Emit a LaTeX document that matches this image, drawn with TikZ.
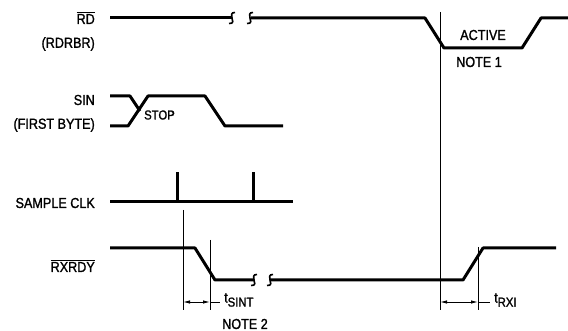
\documentclass[tikz,border=0pt]{standalone}
\usepackage{fontspec}
\setmainfont{Liberation Sans}[FakeBold=1.3, FakeStretch=0.87]
\usetikzlibrary{arrows.meta}
\begin{document}
\begin{tikzpicture}[x=1pt,y=-1pt,
  sig/.style={line width=3pt, line join=round},
  brk/.style={line width=1.6pt},
  guide/.style={line width=0.9pt},
  dim/.style={line width=0.9pt, {Latex[length=7pt,width=3.5pt]}-{Latex[length=7pt,width=3.5pt]}},
  lbl/.style={font=\fontsize{14.5}{16}\selectfont, inner sep=0pt}]
\useasboundingbox (0,0) rectangle (568,331);
% labels
\node[lbl, anchor=east] (lrd) at (95,18) {$\overline{\hbox{RD}}$};
\node[lbl, anchor=east] (lrdrbr) at (95,44) {(RDRBR)};
\node[lbl, anchor=east] (lsin) at (95,100) {SIN};
\node[lbl, anchor=east] (lfb) at (95,125) {(FIRST BYTE)};
\node[lbl, anchor=east] (lclk) at (95,203) {SAMPLE CLK};
\node[lbl, anchor=east] (lrx) at (95,266) {$\overline{\hbox{RXRDY}}$};
% RD signal
\draw[sig] (110,18) -- (232,18);
\draw[brk] (235,12.5) .. controls (231,12) and (231,16) .. (232,18) .. controls (233,20) and (234,24) .. (229,23.5);
\draw[brk] (253,12.5) .. controls (249,12) and (249,16) .. (250,18) .. controls (251,20) and (252,24) .. (247,23.5);
\draw[sig] (251,18) -- (425,18) -- (444,48) -- (522,48) -- (541,18) -- (568,18);
\node[lbl] (act) at (483,35) {ACTIVE};
\node[lbl] (n1) at (479,62) {NOTE 1};
% SIN
\draw[sig] (110,96) -- (130,96) -- (140,111);
\draw[sig] (110,126) -- (128,126) -- (148,96) -- (205,96) -- (225,126) -- (283,126);
\node[lbl, anchor=west, font=\fontsize{13}{14}\selectfont] (stop) at (144,115) {STOP};
% SAMPLE CLK
\draw[sig] (110,202) -- (293,202);
\draw[sig] (177,202) -- (177,172);
\draw[sig] (253,202) -- (253,172);
% RXRDY
\draw[sig] (110,248) -- (195,248) -- (215,280) -- (254,280);
\draw[brk] (257,274.5) .. controls (253,274) and (253,278) .. (254,280) .. controls (255,282) and (256,286) .. (251,285.5);
\draw[brk] (273,274.5) .. controls (269,274) and (269,278) .. (270,280) .. controls (271,282) and (272,286) .. (267,285.5);
\draw[sig] (270,280) -- (463,280) -- (483,248) -- (556,248);
% guides
\coordinate (g1t) at (183,210); \coordinate (g1b) at (183,310);
\coordinate (g2t) at (210,240); \coordinate (g2b) at (210,310);
\coordinate (g3t) at (440,12);  \coordinate (g3b) at (440,310);
\coordinate (g4t) at (478,247); \coordinate (g4b) at (478,310);
\draw[guide] (g1t) -- (g1b);
\draw[guide] (g2t) -- (g2b);
\draw[guide] (g3t) -- (g3b);
\draw[guide] (g4t) -- (g4b);
\coordinate (a1) at (183,302); \coordinate (a2) at (210,302);
\coordinate (a3) at (440,302); \coordinate (a4) at (478,302);
\draw[dim] (a1) -- (a2);
\draw[dim] (a3) -- (a4);
\coordinate (e2) at (220,302); \coordinate (e4) at (490,302);
\draw[guide] (a2) -- (e2);
\draw[guide] (a4) -- (e4);
\node[lbl, anchor=west] (tsint) at (224,300) {t\raisebox{-4pt}{\fontsize{13}{13}\selectfont SINT}};
\node[lbl, anchor=west] (trxi) at (494,300) {t\raisebox{-4pt}{\fontsize{13}{13}\selectfont RXI}};
\node[lbl] (n2) at (245,324) {NOTE 2};
\end{tikzpicture}
\end{document}
